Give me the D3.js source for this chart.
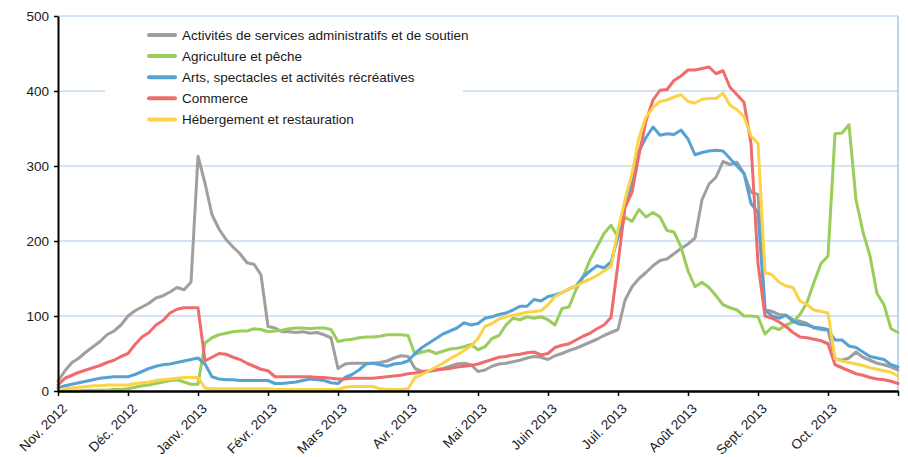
<!DOCTYPE html>
<html>
<head>
<meta charset="utf-8">
<script src="https://cdn.jsdelivr.net/npm/d3@7"></script>
<style>
  html, body { margin: 0; padding: 0; background: #fff; }
  svg { display: block; }
  text { font-family: "Liberation Sans", Arial, Helvetica, sans-serif; }
</style>
</head>
<body>
<svg id="chart" width="908" height="457"></svg>
<script>
// ---- Data (10 readings per month, Nov. 2012 -> end of Oct. 2013) ----
const monthLabels = ["Nov. 2012", "Déc. 2012", "Janv. 2013", "Févr. 2013", "Mars 2013", "Avr. 2013",
  "Mai 2013", "Juin 2013", "Juil. 2013", "Août 2013", "Sept. 2013", "Oct. 2013"];
const yTicks = [0, 100, 200, 300, 400, 500];
const seriesNames = ["Activités de services administratifs et de soutien", "Agriculture et pêche",
  "Arts, spectacles et activités récréatives", "Commerce", "Hébergement et restauration"];
const seriesColors = ["#9f9f9f", "#9acd5a", "#57a2d4", "#f06c6c", "#fcd247"];

const admin = [13, 27, 38, 44, 52, 59, 66, 75, 80, 88, 100,
  107, 112, 117, 124, 127, 132, 138, 135, 145, 313,
  277, 235, 216, 202, 192, 183, 171, 169, 155, 86,
  84, 79, 79, 78, 79, 77, 78, 75, 71, 30,
  36, 37, 37, 37, 37, 38, 40, 44, 47, 46,
  30, 26, 26, 28, 30, 33, 36, 37, 35, 26,
  28, 33, 36, 37, 39, 41, 44, 46, 45, 42,
  47, 50, 54, 57, 61, 65, 69, 74, 78, 82,
  121, 139, 150, 158, 167, 174, 176, 183, 190, 196,
  204, 255, 276, 285, 306, 302, 305, 290, 265, 262,
  109, 106, 102, 101, 95, 93, 90, 84, 82, 81,
  43, 41, 44, 52, 45, 41, 37, 35, 32, 28];
const agri = [0, 0, 0, 0, 1, 1, 1, 1, 2, 2, 3,
  5, 7, 8, 10, 12, 14, 15, 12, 9, 9,
  64, 71, 75, 77, 79, 80, 80, 83, 82, 79,
  80, 81, 83, 84, 84, 83, 84, 84, 82, 66,
  68, 69, 71, 72, 72, 73, 75, 75, 75, 74,
  49, 52, 54, 50, 53, 56, 57, 59, 62, 55,
  59, 70, 74, 88, 97, 95, 99, 97, 99, 95,
  88, 110, 112, 135, 152, 175, 192, 210, 221, 205,
  232, 226, 242, 232, 238, 232, 214, 212, 192, 160,
  139, 145, 138, 127, 115, 111, 108, 100, 100, 99,
  76, 85, 82, 88, 92, 102, 118, 145, 170, 180,
  343, 344, 355, 255, 212, 180, 130, 115, 83, 78];
const arts = [4, 7, 9, 11, 13, 15, 17, 18, 19, 19, 19,
  22, 26, 30, 33, 35, 36, 38, 40, 42, 44,
  36, 19, 16, 15, 15, 14, 14, 14, 14, 14,
  10, 10, 11, 12, 14, 16, 15, 14, 11, 10,
  18, 22, 28, 36, 37, 35, 33, 36, 37, 40,
  50, 58, 64, 70, 76, 80, 84, 91, 88, 90,
  97, 99, 102, 104, 108, 113, 113, 122, 120, 126,
  128, 131, 136, 140, 152, 160, 167, 164, 172, 205,
  250, 275, 320, 338, 352, 341, 343, 342, 348, 336,
  315, 318, 320, 321, 320, 310, 300, 290, 250, 238,
  108, 100, 97, 101, 93, 89, 88, 85, 84, 82,
  68, 68, 60, 58, 52, 46, 44, 42, 35, 32];
const commerce = [8, 17, 21, 25, 28, 31, 34, 38, 41, 46, 50,
  62, 72, 78, 88, 94, 104, 109, 111, 111, 111,
  40, 45, 50, 49, 45, 42, 37, 33, 29, 27,
  19, 19, 19, 19, 19, 19, 18, 18, 17, 16,
  16, 17, 17, 17, 17, 18, 19, 20, 21, 23,
  24, 26, 27, 28, 29, 30, 32, 33, 34, 36,
  39, 42, 45, 46, 48, 49, 51, 52, 48, 50,
  58, 61, 63, 68, 73, 77, 83, 88, 98, 170,
  245, 265, 315, 360, 388, 401, 402, 414, 420, 428,
  428, 430, 432, 423, 427, 405, 395, 385, 330, 170,
  100, 97, 92, 86, 78, 72, 71, 69, 67, 63,
  35, 31, 27, 23, 21, 18, 16, 15, 13, 10];
const hebergement = [1, 3, 4, 5, 6, 7, 7, 8, 8, 8, 8,
  10, 11, 12, 14, 15, 16, 17, 18, 18, 18,
  4, 3, 3, 3, 3, 3, 3, 3, 3, 3,
  2, 2, 2, 2, 2, 2, 2, 2, 2, 2,
  5, 6, 6, 6, 6, 3, 2, 2, 2, 3,
  18, 22, 27, 32, 37, 43, 48, 54, 60, 70,
  86, 90, 96, 99, 101, 103, 105, 106, 107, 115,
  126, 131, 136, 140, 145, 149, 154, 160, 166, 215,
  255, 290, 338, 365, 378, 386, 388, 392, 395, 386,
  384, 389, 390, 390, 397, 381, 375, 366, 340, 330,
  158, 155, 145, 140, 138, 120, 115, 108, 106, 104,
  43, 40, 38, 36, 34, 31, 29, 27, 25, 20];
const seriesValues = [admin, agri, arts, commerce, hebergement];

// ---- Layout ----
const plotLeft = 58, plotRight = 898, plotTop = 16, plotBottom = 391;
const stepsPerMonth = 10;
const svg = d3.select("#chart");
const x = d3.scaleLinear().domain([0, monthLabels.length * stepsPerMonth]).range([plotLeft, plotRight]);
const y = d3.scaleLinear().domain([0, 500]).range([plotBottom, plotTop]);
const gridColor = "#a9c9e7";

// grid lines
svg.append("g").selectAll("line").data(yTicks.filter(d => d > 0)).join("line")
  .attr("x1", plotLeft).attr("x2", plotRight)
  .attr("y1", d => y(d)).attr("y2", d => y(d))
  .attr("stroke", gridColor).attr("stroke-width", 1);
svg.append("line").attr("x1", plotRight).attr("x2", plotRight).attr("y1", plotTop).attr("y2", plotBottom)
  .attr("stroke", gridColor).attr("stroke-width", 1.5);

// legend background (hides gridline)
const legendX = 105, legendY = 22;
svg.append("rect").attr("x", legendX).attr("y", legendY).attr("width", 358).attr("height", 108).attr("fill", "#fff");

// lines
const line = d3.line().x((d, i) => x(i)).y(d => y(d)).curve(d3.curveLinear);
seriesValues.forEach((vals, k) => {
  svg.append("path").datum(vals)
    .attr("fill", "none")
    .attr("stroke", seriesColors[k])
    .attr("stroke-width", 3)
    .attr("stroke-linejoin", "round")
    .attr("stroke-linecap", "round")
    .attr("d", line);
});

// y axis
const yAxis = svg.append("g").attr("transform", `translate(${plotLeft},0)`)
  .call(d3.axisLeft(y).tickValues(yTicks).tickSize(4).tickSizeOuter(0).tickPadding(5));
yAxis.select(".domain").attr("stroke", "#000").attr("stroke-width", 2);
yAxis.selectAll(".tick line").attr("stroke", "#000").attr("stroke-width", 1.5);
yAxis.selectAll("text").attr("font-size", "13.5px").attr("fill", "#1a1a1a")
  .style("font-family", '"Liberation Sans", Arial, sans-serif');

// x axis
const monthTicks = d3.range(0, monthLabels.length + 1).map(m => m * stepsPerMonth);
const xAxis = svg.append("g").attr("transform", `translate(0,${plotBottom})`)
  .call(d3.axisBottom(x).tickValues(monthTicks).tickSize(5).tickSizeOuter(0)
    .tickFormat(d => monthLabels[d / stepsPerMonth] || ""));
xAxis.select(".domain").attr("stroke", "#000").attr("stroke-width", 2.5);
xAxis.selectAll(".tick line").attr("stroke", "#000").attr("stroke-width", 1.5);
xAxis.selectAll("text")
  .attr("x", 0).attr("y", 0).attr("dy", "0.35em")
  .attr("transform", "translate(6,15) rotate(-45)")
  .style("text-anchor", "end")
  .attr("font-size", "13.5px").attr("fill", "#1a1a1a")
  .style("font-family", '"Liberation Sans", Arial, sans-serif');

// legend
const lg = svg.append("g");
seriesNames.forEach((name, k) => {
  const cy = 35 + k * 21.1;
  lg.append("line").attr("x1", 149).attr("x2", 175).attr("y1", cy).attr("y2", cy)
    .attr("stroke", seriesColors[k]).attr("stroke-width", 4).attr("stroke-linecap", "round");
  lg.append("text").attr("x", 182).attr("y", cy).attr("dy", "0.35em")
    .attr("font-size", "13.5px").attr("fill", "#1a1a1a").text(name);
});
</script>
</body>
</html>
